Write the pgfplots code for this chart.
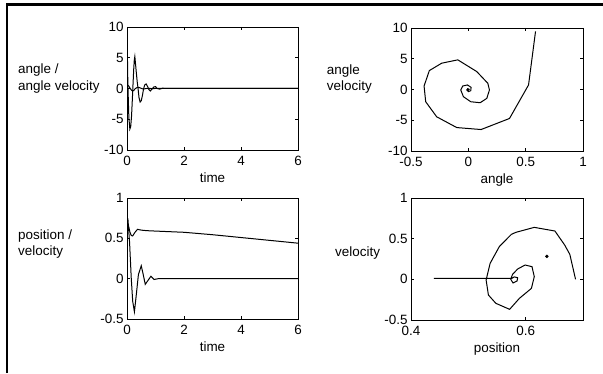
\documentclass[border=0pt]{standalone}
\usepackage{fontspec}
\setmainfont{Liberation Sans}
\usepackage{pgfplots}
\usepackage{pgfplotstable}
\pgfplotsset{compat=1.18}

\pgfplotstableread{
t ang vel
0 0.586 9.46
0.03 0.525 0.74
0.065 0.359 -4.71
0.10 0.111 -6.6
0.13 -0.101 -6.19
0.16 -0.276 -4.44
0.185 -0.372 -1.99
0.21 -0.386 0.57
0.235 -0.340 3.08
0.255 -0.232 4.6
0.275 -0.092 5.2
0.32 0.073 2.92
0.36 0.170 1.01
0.39 0.184 -0.08
0.42 0.161 -1.44
0.46 0.103 -2.2
0.50 0.021 -1.99
0.54 -0.043 -1.17
0.58 -0.066 -0.08
0.62 -0.049 0.57
0.67 -0.008 0.74
0.72 0.024 0.35
0.77 0.021 -0.19
0.82 0.001 -0.40
0.88 -0.014 -0.08
0.94 -0.005 0.25
1.00 0.006 0.30
1.06 0.000 0.0
1.15 0 -0.1
1.25 0 0.05
1.4 0 0
6 0 0
}\toptime

\pgfplotstableread{
ang vel
0.586 9.46
0.525 0.74
0.359 -4.71
0.111 -6.51
-0.101 -6.19
-0.276 -4.44
-0.372 -1.99
-0.386 0.57
-0.340 3.08
-0.232 4.28
-0.092 4.82
0.073 2.92
0.170 1.01
0.184 -0.08
0.161 -1.44
0.103 -2.15
0.021 -1.99
-0.043 -1.17
-0.066 -0.08
-0.049 0.57
-0.008 0.74
0.024 0.35
0.021 -0.19
0.001 -0.35
-0.014 -0.08
-0.005 0.14
0.006 0.03
0.000 -0.08
0 0
}\topphase

\pgfplotstableread{
t pos
0 0.69
0.05 0.66
0.1 0.58
0.15 0.535
0.2 0.53
0.28 0.575
0.37 0.612
0.45 0.605
0.55 0.60
0.7 0.595
1 0.59
2 0.575
3 0.545
4 0.51
5 0.475
6 0.44
}\botpos

\pgfplotstableread{
t vel
0 0.62
0.04 0.70
0.09 0.45
0.15 0.0
0.2 -0.28
0.26 -0.41
0.32 -0.22
0.4 0.05
0.5 0.16
0.57 0.05
0.64 -0.07
0.74 -0.02
0.84 0.03
0.95 -0.01
1.1 0
6 0
}\botvel

\pgfplotstableread{
pos vel
0.687 0.0
0.677 0.307
0.668 0.422
0.651 0.594
0.615 0.639
0.583 0.578
0.575 0.553
0.554 0.402
0.538 0.197
0.531 -0.008
0.535 -0.193
0.548 -0.295
0.572 -0.369
0.589 -0.234
0.610 -0.111
0.615 0.033
0.611 0.156
0.599 0.176
0.586 0.127
0.577 0.06
0.574 0.0
0.578 -0.045
0.585 -0.02
0.586 0.02
0.580 0.03
0.576 0.012
0.50 0.012
0.44 0.012
}\botphase

\pgfplotsset{
  every axis/.append style={
    scale only axis,
    font=\fontsize{13.5}{15}\selectfont,
    axis line style={line width=0.8bp},
    major tick length=3bp,
    every tick/.style={black, line width=0.6bp},
    /pgf/number format/assume math mode=true,
    cycle list={{black}},
    xticklabel style={yshift=-2.5bp},
  },
  every axis plot/.append style={line width=1bp},
}

\begin{document}
\begin{tikzpicture}[x=1bp,y=1bp]
\path[use as bounding box] (0,0) rectangle (603,373);
\draw[line width=2.5bp] (7,0) -- (7,368.5) -- (603,368.5);

% top left
\begin{axis}[at={(127bp,223bp)}, anchor=south west, width=171bp, height=123bp,
  xmin=0, xmax=6, ymin=-10, ymax=10,
  xtick={0,2,4,6}, xticklabels={0,2,4,6},
  ytick={-10,-5,0,5,10}, yticklabels={-10,-5,0,5,10},
  xlabel={time}]
\addplot table[x=t, y=vel] {\toptime};
\addplot table[x=t, y=ang] {\toptime};
\end{axis}

% top right
\begin{axis}[at={(411bp,222bp)}, anchor=south west, width=172bp, height=123bp,
  xmin=-0.5, xmax=1, ymin=-10, ymax=10,
  xtick={-0.5,0,0.5,1}, xticklabels={-0.5,0,0.5,1},
  ytick={-10,-5,0,5,10}, yticklabels={-10,-5,0,5,10},
  xlabel={angle}]
\addplot table[x=ang, y=vel] {\topphase};
\end{axis}

% bottom left
\begin{axis}[at={(127bp,54bp)}, anchor=south west, width=171bp, height=121bp,
  xmin=0, xmax=6, ymin=-0.5, ymax=1,
  xtick={0,2,4,6}, xticklabels={0,2,4,6},
  ytick={-0.5,0,0.5,1}, yticklabels={-0.5,0,0.5,1},
  xlabel={time}]
\addplot table[x=t, y=pos] {\botpos};
\addplot table[x=t, y=vel] {\botvel};
\end{axis}

% bottom right
\begin{axis}[at={(411bp,53bp)}, anchor=south west, width=172bp, height=122bp,
  xmin=0.4, xmax=0.7, ymin=-0.5, ymax=1,
  xtick={0.4,0.6}, xticklabels={0.4,0.6},
  ytick={-0.5,0,0.5,1}, yticklabels={-0.5,0,0.5,1},
  xlabel={position}]
\addplot table[x=pos, y=vel] {\botphase};
\addplot[black, line width=1.4bp] coordinates {(0.44,0.012) (0.50,0.012)};
\addplot[black, only marks, mark=*, mark size=1.1bp] coordinates {(0.637,0.282)};
\end{axis}

\node[anchor=west, align=left, inner sep=0pt, font=\fontsize{13.5}{17}\selectfont] at (18,294.5) {angle /\\angle velocity};
\node[anchor=west, align=left, inner sep=0pt, font=\fontsize{13.5}{17}\selectfont] at (326.7,294) {angle\\velocity};
\node[anchor=west, align=left, inner sep=0pt, font=\fontsize{13.5}{17}\selectfont] at (18,129) {position /\\velocity};
\node[anchor=west, align=left, inner sep=0pt, font=\fontsize{13.5}{17}\selectfont] at (335,120.3) {velocity};
\end{tikzpicture}
\end{document}
